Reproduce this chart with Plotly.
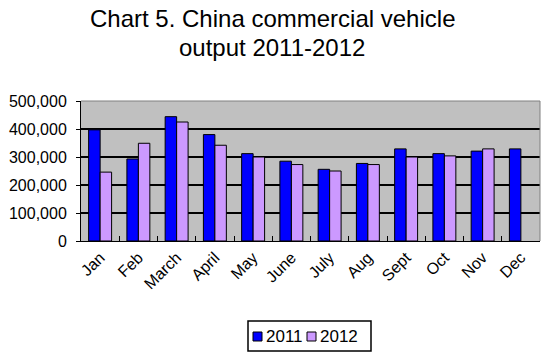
import plotly.graph_objects as go

months = ["Jan", "Feb", "March", "April", "May", "June", "July", "Aug", "Sept", "Oct", "Nov", "Dec"]
output_2011 = [397000, 293000, 444000, 380000, 312000, 285000, 256000, 277000, 329000, 312000, 321000, 329000]
output_2012 = [246000, 349000, 425000, 342000, 300000, 273000, 250000, 273000, 300000, 304000, 329000, None]
y_ticks = [0, 100000, 200000, 300000, 400000, 500000]
y_tick_labels = ["0", "100,000", "200,000", "300,000", "400,000", "500,000"]
series_names = ["2011", "2012"]
series_colors = ["#0000FF", "#CC99FF"]

font_family = "Liberation Sans, Arial, sans-serif"

# the page body adds an 8px offset; compensate so the figure matches page pixels
OFF = 8
W, H = 550 - OFF, 356 - OFF
L, R, T, B = 81 - OFF, 10, 101 - OFF, 115
PW, PH = W - L - R, H - T - B


def px(x):
    return (x - OFF - L) / PW


def py(y):
    return (OFF + H - B - y) / PH


fig = go.Figure()
for name, vals, col in zip(series_names, [output_2011, output_2012], series_colors):
    fig.add_trace(go.Bar(name=name, x=months, y=vals, showlegend=False,
                         marker=dict(color=col, line=dict(color="black", width=1))))

fig.update_layout(
    width=W, height=H,
    margin=dict(l=L, r=R, t=T, b=B, autoexpand=False),
    paper_bgcolor="white",
    plot_bgcolor="#C0C0C0",
    barmode="group",
    bargap=0.4,
    bargroupgap=0,
    font=dict(family=font_family, color="black"),
    showlegend=False,
)

# title
fig.add_annotation(text="Chart 5. China commercial vehicle", xref="paper", yref="paper",
                   x=px(272), y=py(18.5), xanchor="center", yanchor="middle", showarrow=False,
                   font=dict(size=24, family=font_family, color="black"))
fig.add_annotation(text="output 2011-2012", xref="paper", yref="paper",
                   x=px(272), y=py(47), xanchor="center", yanchor="middle", showarrow=False,
                   font=dict(size=24, family=font_family, color="black"))

fig.update_xaxes(
    tickangle=-45, tickfont=dict(size=16), automargin=False,
    showline=True, linecolor="black", linewidth=1,
    ticks="inside", ticklen=5, tickcolor="black", tickson="boundaries",
    showgrid=False,
)
fig.update_yaxes(
    range=[0, 500000], tickvals=y_ticks, ticktext=y_tick_labels,
    tickfont=dict(size=16), automargin=False, ticklabelstandoff=6,
    showline=True, linecolor="black", linewidth=1,
    ticks="outside", ticklen=4, tickcolor="black",
    showgrid=True, gridcolor="black", gridwidth=1.5,
    zeroline=False,
)

# gray frame on top and right of plot area
fig.add_shape(type="line", xref="paper", yref="paper", x0=0, x1=1, y0=1, y1=1,
              line=dict(color="#808080", width=1))
fig.add_shape(type="line", xref="paper", yref="paper", x0=1, x1=1, y0=0, y1=1,
              line=dict(color="#808080", width=1))

# legend box (custom, Excel-like)
fig.add_shape(type="rect", xref="paper", yref="paper",
              x0=px(248), x1=px(371), y0=py(351), y1=py(321),
              line=dict(color="black", width=1.5), fillcolor="white")
leg_items = [(253, 264), (307, 318)]
for (sx, tx), name, col in zip(leg_items, series_names, series_colors):
    fig.add_shape(type="rect", xref="paper", yref="paper",
                  x0=px(sx), x1=px(sx + 9), y0=py(341), y1=py(332),
                  line=dict(color="black", width=1), fillcolor=col)
    fig.add_annotation(text=name, xref="paper", yref="paper", x=px(tx), y=py(336.5),
                       xanchor="left", yanchor="middle", showarrow=False,
                       font=dict(size=17, family=font_family, color="black"))

fig.write_html("out.html", config={"displayModeBar": False})
